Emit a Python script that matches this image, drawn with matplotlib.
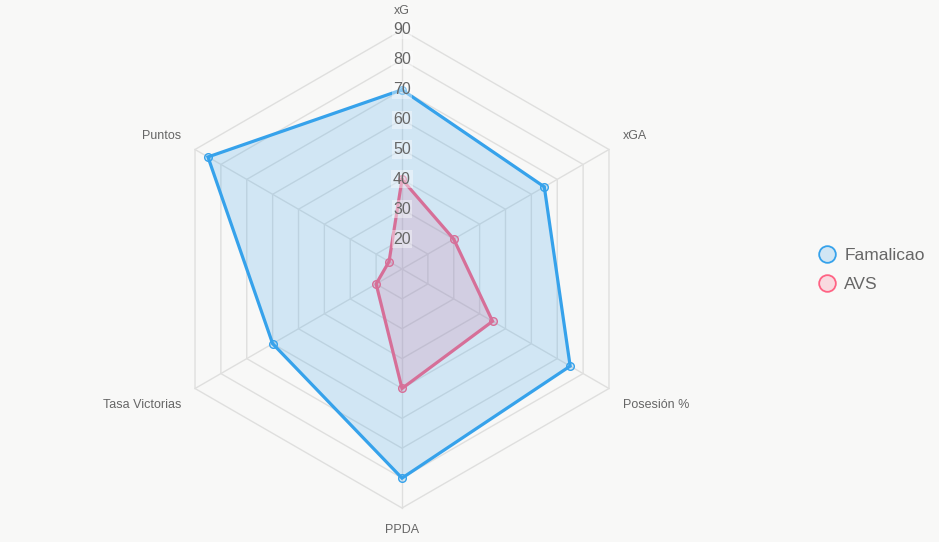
import numpy as np
import matplotlib
matplotlib.use('Agg')
from matplotlib import pyplot as plt
from matplotlib.lines import Line2D

plt.rcParams['font.family'] = ['Liberation Sans', 'DejaVu Sans']

categories = ['xG', 'xGA', 'Posesión %', 'PPDA', 'Tasa Victorias', 'Puntos']
famalicao = [70, 65, 75, 80, 60, 85]
avs = [40, 30, 45, 50, 20, 15]
ticks = [20, 30, 40, 50, 60, 70, 80, 90]
r_min, r_max = 10, 90

bg = '#f8f8f7'
grid_col = '#dfdfde'
text_col = '#666666'

W, H = 939, 542
cx, cy = 402, 269          # centre of the web, pixels
R_px = 239.0               # outer ring radius, pixels
scale = R_px / (r_max - r_min)

fig = plt.figure(figsize=(W / 100, H / 100), dpi=100)
fig.patch.set_facecolor(bg)
ax = fig.add_axes([0, 0, 1, 1])
ax.set_facecolor(bg)
ax.set_xlim(-cx / scale, (W - cx) / scale)
ax.set_ylim(-(H - cy) / scale, cy / scale)
ax.axis('off')

n = len(categories)
angles = np.pi / 2 - 2 * np.pi * np.arange(n) / n


def to_xy(vals):
    r = np.array(vals, dtype=float) - r_min
    x = r * np.cos(angles)
    y = r * np.sin(angles)
    return np.append(x, x[0]), np.append(y, y[0])


R = r_max - r_min
# rings
for t in ticks:
    gx, gy = to_xy([t] * n)
    ax.plot(gx, gy, color=grid_col, lw=1, zorder=1)
# spokes
for a in angles:
    ax.plot([0, R * np.cos(a)], [0, R * np.sin(a)], color=grid_col, lw=1, zorder=1)

# AVS underneath, Famalicao on top (chart.js order)
series = [('AVS', avs, (255 / 255, 99 / 255, 132 / 255)),
          ('Famalicao', famalicao, (54 / 255, 162 / 255, 235 / 255))]
z = 2
for name, vals, col in series:
    x, y = to_xy(vals)
    ax.fill(x, y, color=col, alpha=0.2, lw=0, zorder=z)
    ax.plot(x, y, color=col, lw=2.3, zorder=z + 1, solid_joinstyle='miter')
    ax.plot(x[:-1], y[:-1], ls='none', marker='o', ms=5.5,
            mfc=(*col, 0.2), mec=col, mew=1, zorder=z + 1)
    z += 2

# tick labels on the vertical axis
for t in ticks:
    ax.text(0, t - r_min, str(t), ha='center', va='center', fontsize=11.5,
            color=text_col, zorder=10,
            bbox=dict(boxstyle='square,pad=0.1', fc='white', ec='none', alpha=0.4))

# category labels
pad = 16 / scale
for lab, a in zip(categories, angles):
    c, s = np.cos(a), np.sin(a)
    x, y = (R + pad) * c, (R + pad) * s
    if abs(c) < 0.01:
        ha = 'center'
        va = 'bottom' if s > 0 else 'top'
        if s > 0:
            y -= 3 / scale
    else:
        ha = 'left' if c > 0 else 'right'
        va = 'center'
        y = R * s + (13 / scale if s > 0 else -17 / scale)
        x = R * c + (14 / scale if c > 0 else -14 / scale)
    ax.text(x, y, lab, ha=ha, va=va, fontsize=9, color=text_col)

# legend
handles = [Line2D([], [], ls='none', marker='o', ms=12,
                  mfc=(*col, 0.2), mec=col, mew=1.3, label=name)
           for name, vals, col in series[::-1]]
leg = fig.legend(handles=handles, loc='center left', bbox_to_anchor=(801 / W, 1 - 270 / H),
                 frameon=False, fontsize=12.5, handletextpad=0.4, labelspacing=0.8,
                 handlelength=1.2, labelcolor=text_col)

fig.savefig('out.png', dpi=100, facecolor=bg)
